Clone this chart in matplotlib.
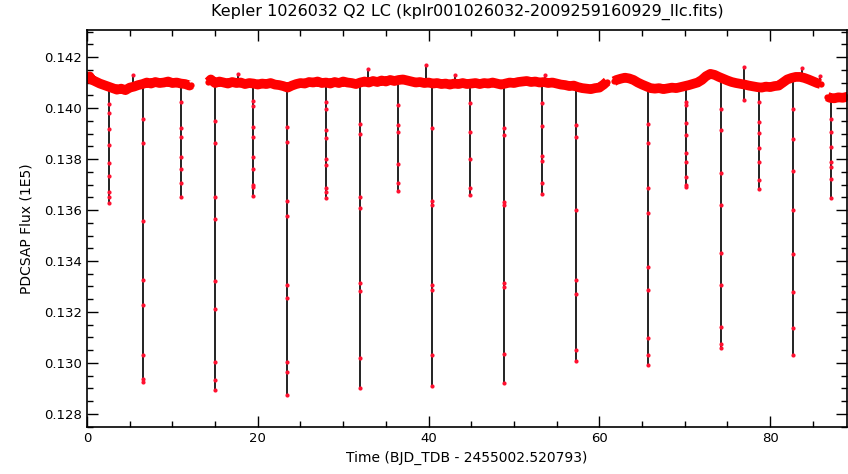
# Kepler 1026032 Q2 long-cadence light curve (PDCSAP flux)

import numpy as np
import matplotlib.pyplot as plt
from matplotlib.ticker import MultipleLocator

# out-of-eclipse baseline, one pair of lists per data segment (days, flux/1E5)
seg1_t = [0.0, 0.3, 0.5, 1.0, 1.5, 2.0, 2.5, 3.0, 3.5, 4.0, 4.5, 5.0, 5.5, 6.0, 6.5,
          7.0, 7.5, 8.0, 8.5, 9.0, 9.5, 10.0, 10.5, 11.0, 11.5, 12.0, 12.2]
seg1_f = [0.14108, 0.14124, 0.14112, 0.14104, 0.14096, 0.14090, 0.14084, 0.14078,
          0.14072, 0.14076, 0.14070, 0.14080, 0.14084, 0.14090, 0.14094, 0.14100,
          0.14096, 0.14102, 0.14098, 0.14100, 0.14104, 0.14098, 0.14100, 0.14096,
          0.14094, 0.14088, 0.14092]

seg2_t = [14.2, 14.5, 15.0, 15.5, 16.0, 16.5, 17.0, 17.5, 18.0, 18.5, 19.0, 19.5,
          20.0, 20.5, 21.0, 21.5, 22.0, 22.5, 23.0, 23.5, 24.0, 24.5, 25.0, 25.5,
          26.0, 26.5, 27.0, 27.5, 28.0, 28.5, 29.0, 29.5, 30.0, 30.5, 31.0, 31.5,
          32.0, 32.5, 33.0, 33.5, 34.0, 34.5, 35.0, 35.5, 36.0, 36.5, 37.0, 37.5,
          38.0, 38.5, 39.0, 39.5, 40.0, 40.5, 41.0, 41.5, 42.0, 42.5, 43.0, 43.5,
          44.0, 44.5, 45.0, 45.5, 46.0, 46.5, 47.0, 47.5, 48.0, 48.5, 49.0, 49.5,
          50.0, 50.5, 51.0, 51.5, 52.0, 52.5, 53.0, 53.5, 54.0, 54.5, 55.0, 55.5,
          56.0, 56.5, 57.0, 57.5, 58.0, 58.5, 59.0, 59.5, 60.0, 60.5, 60.9]
seg2_f = [0.14102, 0.14112, 0.14098, 0.14104, 0.14100, 0.14096, 0.14102, 0.14098,
          0.14100, 0.14094, 0.14098, 0.14096, 0.14092, 0.14096, 0.14094, 0.14098,
          0.14092, 0.14090, 0.14086, 0.14080, 0.14088, 0.14094, 0.14098, 0.14096,
          0.14102, 0.14100, 0.14104, 0.14098, 0.14100, 0.14096, 0.14102, 0.14098,
          0.14104, 0.14100, 0.14098, 0.14094, 0.14100, 0.14104, 0.14100, 0.14106,
          0.14102, 0.14108, 0.14104, 0.14110, 0.14106, 0.14110, 0.14112, 0.14108,
          0.14104, 0.14100, 0.14102, 0.14098, 0.14100, 0.14096, 0.14098, 0.14094,
          0.14096, 0.14092, 0.14096, 0.14094, 0.14098, 0.14094, 0.14096, 0.14098,
          0.14094, 0.14098, 0.14096, 0.14100, 0.14096, 0.14092, 0.14096, 0.14100,
          0.14098, 0.14102, 0.14104, 0.14106, 0.14102, 0.14104, 0.14100, 0.14102,
          0.14098, 0.14100, 0.14096, 0.14092, 0.14090, 0.14086, 0.14088, 0.14082,
          0.14078, 0.14076, 0.14074, 0.14078, 0.14080, 0.14092, 0.14104]

seg3_t = [61.7, 62.0, 62.5, 63.0, 63.5, 64.0, 64.5, 65.0, 65.5, 66.0, 66.5, 67.0,
          67.5, 68.0, 68.5, 69.0, 69.5, 70.0, 70.5, 71.0, 71.5, 72.0, 72.5, 73.0,
          73.5, 74.0, 74.5, 75.0, 75.5, 76.0, 76.5, 77.0, 77.5, 78.0, 78.5, 79.0,
          79.5, 80.0, 80.5, 81.0, 81.5, 82.0, 82.5, 83.0, 83.5, 84.0, 84.5, 85.0,
          85.5, 85.9]
seg3_f = [0.14105, 0.14110, 0.14115, 0.14119, 0.14116, 0.14110, 0.14100, 0.14092,
          0.14085, 0.14078, 0.14076, 0.14078, 0.14074, 0.14077, 0.14080, 0.14078,
          0.14082, 0.14086, 0.14090, 0.14095, 0.14100, 0.14110, 0.14125, 0.14134,
          0.14130, 0.14122, 0.14115, 0.14108, 0.14102, 0.14098, 0.14095, 0.14092,
          0.14088, 0.14085, 0.14082, 0.14080, 0.14084, 0.14082, 0.14086, 0.14088,
          0.14100, 0.14112, 0.14118, 0.14122, 0.14122, 0.14118, 0.14112, 0.14105,
          0.14098, 0.14094]

seg4_t = [86.7, 87.0, 87.5, 88.0, 88.5, 89.0, 89.3]
seg4_f = [0.14045, 0.14040, 0.14038, 0.14042, 0.14040, 0.14044, 0.14040]

# eclipses: mid time and the in-eclipse cadences (flux)
ecl_t = [2.58, 6.56, 11.01, 14.99, 19.44, 23.42, 27.99, 31.97, 36.42, 40.40,
         44.85, 48.83, 53.28, 57.26, 65.69, 70.14, 74.24, 78.69, 82.67, 87.12]
ecl_f = [
    [0.14014, 0.13979, 0.13917, 0.13855, 0.13785, 0.13735, 0.13669, 0.13650, 0.13626],
    [0.13956, 0.13863, 0.13557, 0.13324, 0.13227, 0.13033, 0.12936, 0.12925],
    [0.14022, 0.13921, 0.13886, 0.13809, 0.13762, 0.13704, 0.13650],
    [0.13948, 0.13863, 0.13650, 0.13564, 0.13320, 0.13212, 0.13002, 0.12933, 0.12894],
    [0.14029, 0.14006, 0.13925, 0.13886, 0.13809, 0.13762, 0.13700, 0.13692, 0.13653],
    [0.13925, 0.13867, 0.13634, 0.13576, 0.13305, 0.13254, 0.13002, 0.12964, 0.12874],
    [0.14022, 0.13995, 0.13913, 0.13882, 0.13801, 0.13778, 0.13688, 0.13669, 0.13646],
    [0.13936, 0.13898, 0.13650, 0.13607, 0.13312, 0.13281, 0.13018, 0.12902],
    [0.14010, 0.13933, 0.13905, 0.13781, 0.13704, 0.13673],
    [0.13921, 0.13634, 0.13619, 0.13305, 0.13285, 0.13033, 0.12909],
    [0.14018, 0.13905, 0.13801, 0.13685, 0.13657],
    [0.13921, 0.13894, 0.13630, 0.13619, 0.13312, 0.13297, 0.13037, 0.12921],
    [0.14018, 0.13929, 0.13812, 0.13793, 0.13704, 0.13661],
    [0.13933, 0.13886, 0.13599, 0.13324, 0.13270, 0.13049, 0.13006],
    [0.13936, 0.13863, 0.13685, 0.13588, 0.13378, 0.13285, 0.13099, 0.13033, 0.12991],
    [0.14022, 0.14010, 0.13940, 0.13894, 0.13824, 0.13789, 0.13731, 0.13700, 0.13692],
    [0.13995, 0.13913, 0.13747, 0.13619, 0.13433, 0.13305, 0.13142, 0.13076, 0.13057],
    [0.14022, 0.13944, 0.13902, 0.13843, 0.13789, 0.13719, 0.13681],
    [0.13998, 0.13878, 0.13754, 0.13599, 0.13429, 0.13278, 0.13138, 0.13033],
    [0.13956, 0.13905, 0.13847, 0.13790, 0.13770, 0.13720, 0.13646],
]

# single-cadence outliers
out_t = [5.4, 17.7, 32.9, 39.7, 43.1, 53.6, 76.9, 76.9, 83.7, 85.8]
out_f = [0.14130, 0.14134, 0.14153, 0.14170, 0.14130, 0.14130, 0.14160, 0.14033,
         0.14157, 0.14126]

segments = [(seg1_t, seg1_f), (seg2_t, seg2_f), (seg3_t, seg3_f), (seg4_t, seg4_f)]
base_t = np.array(seg1_t + seg2_t + seg3_t + seg4_t)
base_f = np.array(seg1_f + seg2_f + seg3_f + seg4_f)


def nearest_base(tc):
    return base_f[np.argmin(np.abs(base_t - tc))]


fig = plt.figure(figsize=(8.48, 4.74), dpi=100)
ax = fig.add_axes([0.1026, 0.0992, 0.8962, 0.8375])

# eclipses: the cadences drop from the baseline and climb back
for tc, fl in zip(ecl_t, ecl_f):
    fl = sorted(fl, reverse=True)
    fb = nearest_base(tc)
    ax.plot([tc] * (len(fl) + 1), [fb] + fl, color='#111111', lw=1.3, zorder=1)
    ax.plot([tc] * len(fl), fl, ls='none', marker='o', ms=3, color='#ff1030',
            mec='none', zorder=3)

# outliers: one cadence spiking off the band
for tc, fo in zip(out_t, out_f):
    ax.plot([tc, tc], [nearest_base(tc), fo], color='#111111', lw=1.3, zorder=1)
    ax.plot([tc], [fo], ls='none', marker='o', ms=3, color='#ff1030',
            mec='none', zorder=3)

# the dense out-of-eclipse band
for st, sf in segments:
    ax.plot(st, sf, color='#ff0000', lw=7, solid_capstyle='butt', zorder=2)
    ax.plot(st, sf, ls='none', marker='o', ms=4.5, color='#ff0000', mec='none',
            zorder=2)

ax.set_xlim(0, 89.0)
ax.set_ylim(0.12749, 0.14306)
ax.xaxis.set_major_locator(MultipleLocator(20))
ax.xaxis.set_minor_locator(MultipleLocator(5))
ax.yaxis.set_major_locator(MultipleLocator(0.002))
ax.yaxis.set_minor_locator(MultipleLocator(0.0005))
ax.yaxis.set_major_formatter(plt.FormatStrFormatter('%.3f'))
ax.tick_params(which='both', direction='in', top=True, right=True, labelsize=9.5,
               color='black')
ax.tick_params(which='major', length=8, width=1)
ax.tick_params(which='minor', length=4, width=1)
for s in ax.spines.values():
    s.set_linewidth(1.2)

ax.set_title('Kepler 1026032 Q2 LC (kplr001026032-2009259160929_llc.fits)',
             fontsize=11.5, pad=10)
ax.set_xlabel('Time (BJD_TDB - 2455002.520793)', fontsize=10, labelpad=4)
ax.set_ylabel('PDCSAP Flux (1E5)', fontsize=10, labelpad=8)

plt.savefig('out.png', dpi=100)
